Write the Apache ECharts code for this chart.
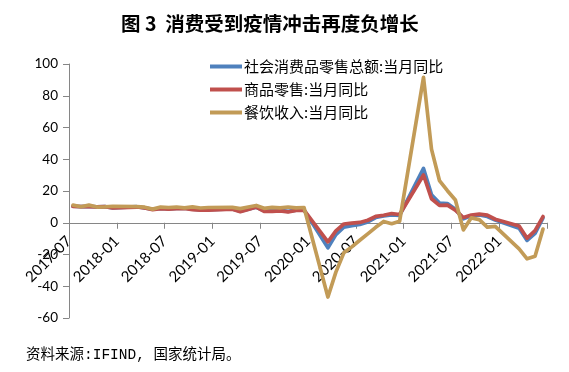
<!DOCTYPE html>
<html>
<head>
<meta charset="utf-8">
<script src="https://cdn.jsdelivr.net/npm/echarts@6/dist/echarts.min.js"></script>
<style>html,body{margin:0;padding:0;background:#fff}#c{width:569px;height:372px}</style>
</head>
<body>
<div id="c"></div>
<script>
const months = [
  '2017-07','2017-08','2017-09','2017-10','2017-11','2017-12',
  '2018-01','2018-02','2018-03','2018-04','2018-05','2018-06','2018-07','2018-08','2018-09','2018-10','2018-11','2018-12',
  '2019-01','2019-02','2019-03','2019-04','2019-05','2019-06','2019-07','2019-08','2019-09','2019-10','2019-11','2019-12',
  '2020-01','2020-02','2020-03','2020-04','2020-05','2020-06','2020-07','2020-08','2020-09','2020-10','2020-11','2020-12',
  '2021-01','2021-02','2021-03','2021-04','2021-05','2021-06','2021-07','2021-08','2021-09','2021-10','2021-11','2021-12',
  '2022-01','2022-02','2022-03','2022-04','2022-05','2022-06'
];
const seriesNames = ['社会消费品零售总额:当月同比','商品零售:当月同比','餐饮收入:当月同比'];
const totalRetail = [
  10.4,10.1,10.3,10.0,10.2,9.4,
  null,null,10.1,9.4,8.5,9.0,8.8,9.0,9.2,8.6,8.1,8.2,
  null,null,8.7,7.2,8.6,9.8,7.6,7.5,7.8,7.2,8.0,8.0,
  null,null,-15.8,-7.5,-2.8,-1.8,-1.1,0.5,3.3,4.3,5.0,4.6,
  null,null,34.2,17.7,12.4,12.1,8.5,2.5,4.4,4.9,3.9,1.7,
  null,null,-3.5,-11.1,-6.7,3.1
];
const goodsRetail = [
  10.3,10.1,10.2,10.0,10.2,9.3,
  null,null,9.9,9.3,8.3,8.9,8.6,8.9,9.0,8.3,7.9,8.0,
  null,null,8.5,7.0,8.4,9.9,7.2,7.2,7.5,6.8,7.8,7.9,
  null,null,-12.0,-5.1,-0.8,-0.2,0.2,1.6,4.0,4.7,5.8,5.2,
  null,null,30.1,15.1,10.9,11.1,7.9,3.3,4.8,5.4,4.8,2.2,
  null,null,-2.1,-9.7,-5.0,3.9
];
const catering = [
  11.1,10.1,11.1,9.9,10.0,10.4,
  null,null,10.2,9.8,8.6,9.9,9.6,9.9,9.4,10.0,9.3,9.6,
  null,null,9.7,8.9,9.9,10.9,9.1,9.7,9.4,9.9,9.4,9.6,
  null,null,-46.8,-31.1,-18.9,-15.2,-11.0,-7.0,-2.9,0.8,-0.6,1.0,
  null,null,91.6,46.4,26.6,20.2,14.3,-4.5,3.1,2.0,-2.7,-2.3,
  null,null,-16.4,-22.7,-21.1,-4.0
];
const yMin = -60, yMax = 100, yStep = 20;
const colors = ['#4F81BD','#C0504D','#C29B57'];

const gridTop = 64, gridBottom = 54, chartH = 372;
const plotH = chartH - gridTop - gridBottom;
// move the x axis up to the y=0 crossing
const xAxisOffset = -plotH * (0 - yMin) / (yMax - yMin);

function toPoints(arr){
  const out = [];
  arr.forEach((v,i)=>{ if(v!==null) out.push([i+0.5, v]); });
  return out;
}
const chart = echarts.init(document.getElementById('c'), null, {renderer:'canvas'});
const lineSeries = [totalRetail, goodsRetail, catering].map((arr,k)=>({
  name: seriesNames[k], type:'line', data: toPoints(arr), showSymbol:false, symbol:'none',
  lineStyle:{width:3.7, color:colors[k], join:'round', cap:'round'}, itemStyle:{color:colors[k]},
  z: 2+k, animation:false
}));
chart.setOption({
  animation:false,
  title:[
    {text:'图 3  消费受到疫情冲击再度负增长', left:116, top:9,
     textStyle:{fontFamily:'Noto Sans CJK SC', fontWeight:'bold', fontSize:19.5, color:'#000'}},
    {text:'资料来源:IFIND, 国家统计局。', left:21, top:343,
     textStyle:{fontFamily:'Liberation Mono, Noto Sans CJK SC', fontWeight:'normal', fontSize:14.5, color:'#000'}}
  ],
  legend:{
    orient:'vertical', left:205, top:54, itemWidth:32, itemHeight:4, itemGap:8,
    icon:'rect',
    textStyle:{fontFamily:'Noto Sans CJK SC', fontSize:15, color:'#000', padding:[0,0,0,-3]},
    data: seriesNames
  },
  grid:{left:69, right:22, top:gridTop, bottom:gridBottom, containLabel:false},
  xAxis:{
    type:'value', min:0, max:60, interval:6, position:'bottom', offset: xAxisOffset,
    axisLine:{onZero:false, lineStyle:{color:'#868686', width:1}},
    axisTick:{show:true, length:6, lineStyle:{color:'#868686'}},
    splitLine:{show:false},
    axisLabel:{rotate:45, margin:16, fontFamily:'Lato', fontSize:15, color:'#000',
      formatter: v => months[v] !== undefined ? months[v] : ''}
  },
  yAxis:{
    type:'value', min:yMin, max:yMax, interval:yStep,
    axisLine:{show:true, onZero:false, lineStyle:{color:'#868686', width:1}},
    axisTick:{show:true, length:6, lineStyle:{color:'#868686'}},
    splitLine:{show:false},
    axisLabel:{fontFamily:'Lato', fontSize:13.5, color:'#000', margin:11}
  },
  series: lineSeries
});
</script>
</body>
</html>
